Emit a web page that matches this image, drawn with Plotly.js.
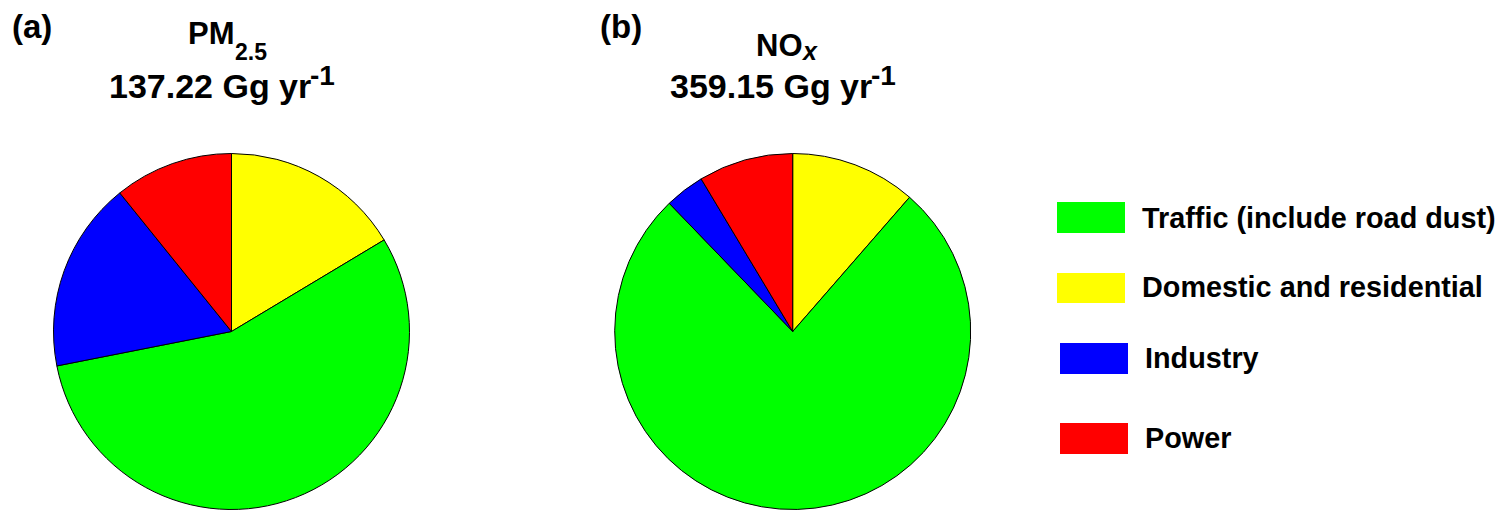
<!DOCTYPE html>
<html>
<head>
<meta charset="utf-8">
<script src="https://cdn.plot.ly/plotly-3.0.1.min.js"></script>
<style>html,body{margin:0;padding:0;background:#fff;}#chart{width:1508px;height:522px;}</style>
</head>
<body>
<div id="chart"></div>
<script>
// Categories (legend order) and colours
const categories = ['Traffic (include road dust)', 'Domestic and residential', 'Industry', 'Power'];
const colors = ['#00ff00', '#ffff00', '#0000ff', '#ff0000'];
// Shares (%)
const pm25 = [55.5, 16.4, 17.3, 10.8];
const nox = [76.4, 11.4, 3.6, 8.6];
// Clockwise order of slices starting at 12 o'clock
const pieOrder = [1, 0, 2, 3];
// Panel titles
const panelTags = ['(a)', '(b)'];
const speciesMain = ['PM', 'NO'];
const speciesSub = ['2.5', '<i>x</i>'];
const totals = ['137.22 Gg yr', '359.15 Gg yr'];
const unitExp = '-1';

const W = 1508, H = 522;
const px = x => x / W;
const py = y => 1 - y / H;
const FONT = 'Liberation Sans, Arial, sans-serif';

function pieTrace(vals, cx, cy, r) {
  return {
    type: 'pie',
    labels: pieOrder.map(i => categories[i]),
    values: pieOrder.map(i => vals[i]),
    marker: { colors: pieOrder.map(i => colors[i]), line: { color: '#000', width: 1 } },
    sort: false,
    direction: 'clockwise',
    rotation: 0,
    textinfo: 'none',
    hoverinfo: 'label+percent',
    showlegend: false,
    domain: { x: [px(cx - r), px(cx + r)], y: [py(cy + r + 5), py(cy - r - 5)] }
  };
}

const data = [
  pieTrace(pm25, 231.5, 331.5, 178),
  pieTrace(nox, 792.7, 331.5, 178)
];

// annotation helper: baseline-based vertical placement
function txt(text, x, baseline, size, xanchor) {
  return { text: text, x: px(x), y: py(baseline - 0.35 * size), xref: 'paper', yref: 'paper',
    xanchor: xanchor, yanchor: 'middle', showarrow: false,
    font: { family: FONT, size: size, color: '#000' } };
}

const annotations = [];
// panel tags
annotations.push(txt('<b>' + panelTags[0] + '</b>', 10, 38, 33, 'left'));
annotations.push(txt('<b>' + panelTags[1] + '</b>', 598, 38, 33, 'left'));
// species names
const specRight = [237, 805];
const specBase = [44, 56];
const subBase = [60, 60];
const subSize = [23, 25];
const subGap = [-4, -6];
for (let k = 0; k < 2; k++) {
  annotations.push(txt('<b>' + speciesMain[k] + '</b>', specRight[k], specBase[k], 31, 'right'));
  annotations.push(txt('<b>' + speciesSub[k] + '</b>', specRight[k] + subGap[k], subBase[k], subSize[k], 'left'));
}
// totals
const totRight = [313, 874];
for (let k = 0; k < 2; k++) {
  annotations.push(txt('<b>' + totals[k] + '</b>', totRight[k], 98, 34, 'right'));
  annotations.push(txt('<b>' + unitExp + '</b>', totRight[k] - 5, 85.5, 28, 'left'));
}

// Legend (drawn manually to keep the reference order)
const legBase = [228, 297, 368, 448];
const legBoxY = [[202, 233], [273, 303], [343, 374], [423, 454]];
const legBoxX = [1057, 1057, 1060, 1060];
const legTextX = [1140, 1140, 1143, 1143];
const shapes = [];
categories.forEach((c, i) => {
  shapes.push({ type: 'rect', xref: 'paper', yref: 'paper',
    x0: px(legBoxX[i]), x1: px(legBoxX[i] + 68), y0: py(legBoxY[i][1]), y1: py(legBoxY[i][0]),
    fillcolor: colors[i], line: { width: 0 } });
  annotations.push(txt('<b>' + c + '</b>', legTextX[i], legBase[i], 28.8, 'left'));
});

const layout = {
  width: W, height: H,
  margin: { l: 0, r: 0, t: 0, b: 0 },
  paper_bgcolor: '#fff',
  showlegend: false,
  annotations: annotations,
  shapes: shapes
};

Plotly.newPlot('chart', data, layout, { displayModeBar: false, staticPlot: true });
</script>
</body>
</html>
